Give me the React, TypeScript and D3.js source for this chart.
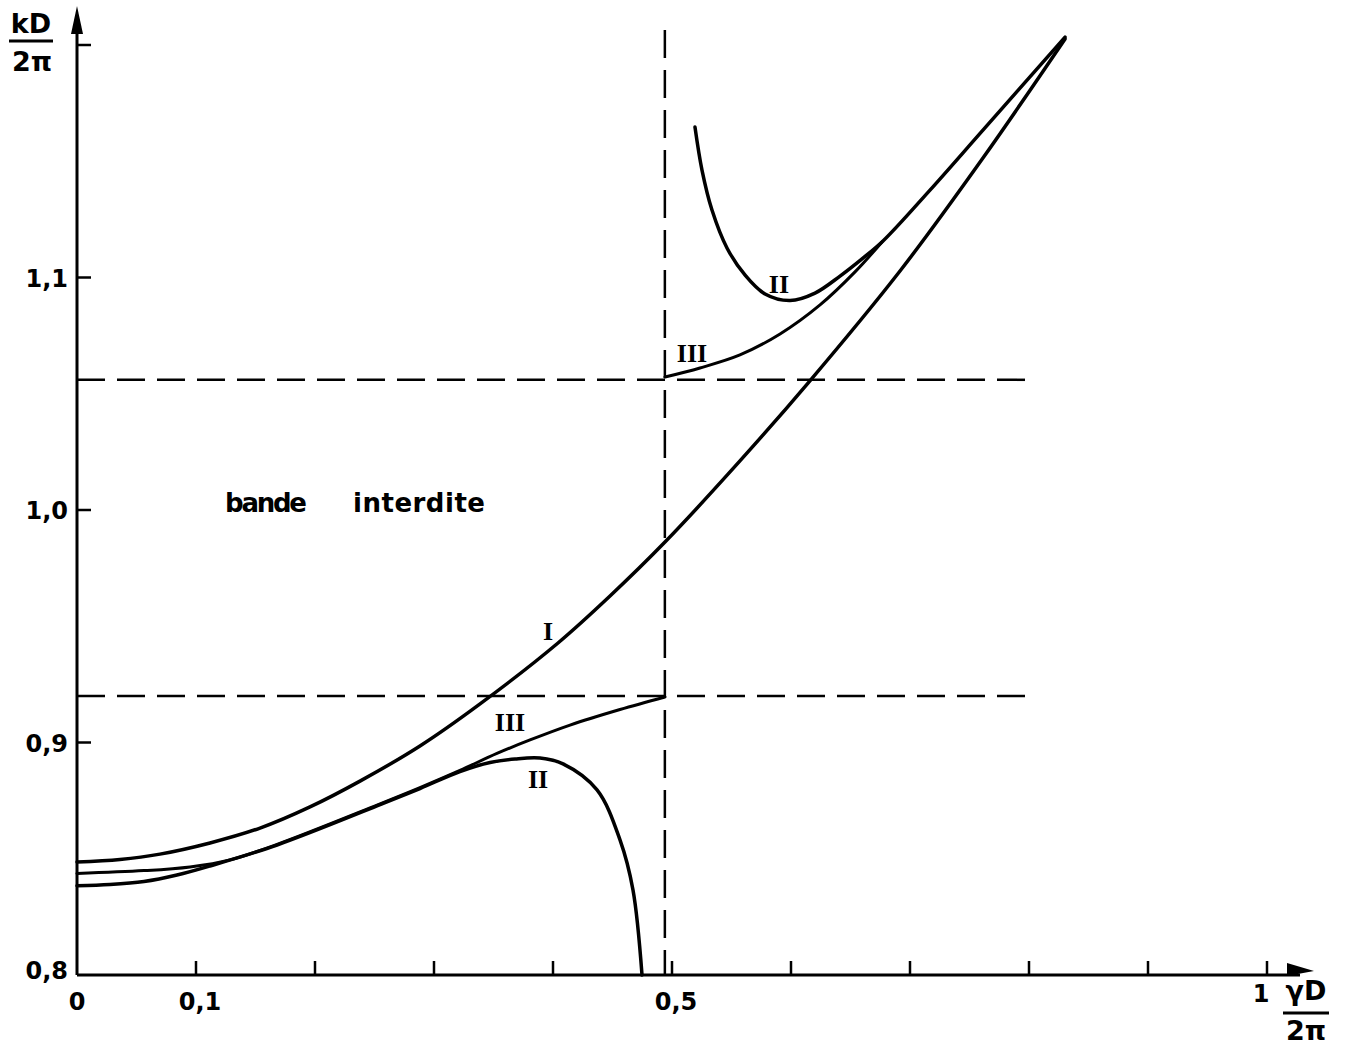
import React from "react";
import { scaleLinear, line, curveCatmullRom, range } from "d3";

// gamma D / 2pi  vs  k D / 2pi
const curveIx = [0, 0.0361, 0.0697, 0.1118, 0.1538, 0.1958, 0.2378, 0.2882, 0.3387, 0.4042, 0.4479, 0.4941, 0.5571, 0.6143, 0.6916, 0.7613, 0.8303];
const curveIy = [0.8486, 0.8497, 0.852, 0.8568, 0.8632, 0.8723, 0.8834, 0.8985, 0.9166, 0.9428, 0.963, 0.9862, 1.0211, 1.0546, 1.1028, 1.1514, 1.2026];

const lowIIx = [0, 0.0277, 0.0563, 0.084, 0.1118, 0.1681, 0.2521, 0.2882, 0.3218, 0.3471, 0.3681, 0.3891, 0.4084, 0.437, 0.4563, 0.4672, 0.4748];
const lowIIy = [0.8384, 0.8389, 0.8402, 0.843, 0.8469, 0.8559, 0.8727, 0.8802, 0.8875, 0.8914, 0.8929, 0.8933, 0.8908, 0.8796, 0.8581, 0.8366, 0.8];

const lowIIIx = [0, 0.0563, 0.095, 0.1286, 0.1681, 0.2521, 0.2882, 0.3218, 0.3529, 0.3807, 0.4143, 0.4563, 0.4941];
const lowIIIy = [0.8437, 0.8449, 0.8465, 0.8495, 0.8562, 0.8731, 0.8806, 0.888, 0.8953, 0.9011, 0.9075, 0.9142, 0.9196];

const upIIx = [0.5193, 0.5252, 0.5336, 0.5462, 0.5613, 0.5782, 0.5992, 0.6202, 0.6412, 0.6597, 0.6773, 0.7168, 0.7613, 0.8303];
const upIIy = [1.1647, 1.1462, 1.129, 1.1127, 1.1011, 1.0929, 1.0901, 1.0933, 1.1006, 1.108, 1.1157, 1.1376, 1.1634, 1.2034];

const upIIIx = [0.4941, 0.5235, 0.5571, 0.5908, 0.6244, 0.6538, 0.6765];
const upIIIy = [1.0572, 1.0611, 1.0667, 1.0757, 1.0882, 1.1024, 1.1153];

const bandEdges = [0.92, 1.056];
const zoneEdge = 0.494;
const dashEnd = 0.8;

const yLabelValues = [0.8, 0.9, 1.0, 1.1];
const yLabelTexts = ["0,8", "0,9", "1,0", "1,1"];
const xLabelValues = [0, 0.1, 0.5, 1];
const xLabelTexts = ["0", "0,1", "0,5", "1"];

const curveLabelTexts = ["I", "III", "II", "II", "III"];
const curveLabelX = [0.3958, 0.3639, 0.3874, 0.5899, 0.5168];
const curveLabelY = [0.9441, 0.9048, 0.8804, 1.0933, 1.0637];

export default function App() {
  const x = scaleLinear().domain([0, 1]).range([77, 1267]);
  const y = scaleLinear().domain([0.8, 1.2]).range([975, 45]);

  const path = (xs: number[], ys: number[]) =>
    line<number>()
      .x((d, i) => x(xs[i]))
      .y((d, i) => y(ys[i]))
      .curve(curveCatmullRom.alpha(0.5))(xs) as string;

  const ink = "#000";
  const font = "'DejaVu Sans', sans-serif";
  const xTicks = range(1, 11).map((i) => i / 10);
  const yTicks = [0.9, 1.0, 1.1, 1.2];

  return (
    <svg
      width={1345}
      height={1048}
      style={{ position: "absolute", left: 0, top: 0, background: "#fff" }}
    >
      {/* axes */}
      <line x1={x(0)} y1={y(0.8)} x2={x(0)} y2={22} stroke={ink} strokeWidth={3} />
      <path d={`M${x(0)},6 L${x(0) - 6},34 L${x(0) + 6},34 Z`} fill={ink} />
      <line x1={x(0)} y1={y(0.8)} x2={1300} y2={y(0.8)} stroke={ink} strokeWidth={3} />
      <path d={`M1314,${y(0.8) - 4} L1287,${y(0.8) - 12} L1287,${y(0.8) + 1} Z`} fill={ink} />

      {xTicks.map((t) => (
        <line key={"xt" + t} x1={x(t)} x2={x(t)} y1={y(0.8)} y2={y(0.8) - 14} stroke={ink} strokeWidth={2.5} />
      ))}
      {yTicks.map((t) => (
        <line key={"yt" + t} x1={x(0)} x2={x(0) + 14} y1={y(t)} y2={y(t)} stroke={ink} strokeWidth={2.5} />
      ))}

      <g fontFamily={font} fontSize={24} fontWeight="bold" fill={ink}>
        {yLabelValues.map((v, i) => (
          <text key={"yl" + i} x={68} y={y(v) + (i === 0 ? 4 : 9)} textAnchor="end">
            {yLabelTexts[i]}
          </text>
        ))}
        {xLabelValues.map((v, i) => (
          <text
            key={"xl" + i}
            x={x(v) + (i === 0 ? 0 : i === 3 ? -6 : 4)}
            y={i === 3 ? 1002 : 1010}
            textAnchor="middle"
          >
            {xLabelTexts[i]}
          </text>
        ))}
      </g>

      {/* axis titles */}
      <g fontFamily={font} fontSize={27} fontWeight="bold" fill={ink}>
        <text x={31} y={33} textAnchor="middle">kD</text>
        <line x1={9} x2={53} y1={41} y2={41} stroke={ink} strokeWidth={3} />
        <text x={32} y={71} textAnchor="middle">2π</text>

        <text x={1306} y={1000} textAnchor="middle">γD</text>
        <line x1={1283} x2={1329} y1={1013} y2={1013} stroke={ink} strokeWidth={3} />
        <text x={1306} y={1040} textAnchor="middle">2π</text>
      </g>

      {/* dashed limits */}
      {bandEdges.map((v) => (
        <line key={"be" + v} x1={x(0)} x2={x(dashEnd)} y1={y(v)} y2={y(v)} stroke={ink} strokeWidth={2.5} strokeDasharray="28,12" />
      ))}
      <line x1={x(zoneEdge)} x2={x(zoneEdge)} y1={30} y2={y(0.8)} stroke={ink} strokeWidth={2.5} strokeDasharray="28,12" />

      {/* dispersion curves */}
      <g fill="none" stroke={ink} strokeWidth={3.5} strokeLinecap="round">
        <path d={path(curveIx, curveIy)} />
        <path d={path(lowIIx, lowIIy)} />
        <path d={path(lowIIIx, lowIIIy)} strokeWidth={3} />
        <path d={path(upIIx, upIIy)} />
        <path d={path(upIIIx, upIIIy)} strokeWidth={3} />
      </g>

      {/* labels */}
      <g fontFamily="'Liberation Serif', serif" fontWeight="bold" fontSize={26} fill={ink} textAnchor="middle">
        {curveLabelTexts.map((t, i) => (
          <text key={"cl" + i} x={x(curveLabelX[i])} y={y(curveLabelY[i])}>
            {t}
          </text>
        ))}
      </g>
      <g fontFamily={font} fontSize={26} fontWeight="bold" fill={ink}>
        <text x={225} y={512} textLength={82} lengthAdjust="spacing">bande</text>
        <text x={353} y={512} textLength={132} lengthAdjust="spacing">interdite</text>
      </g>
    </svg>
  );
}
